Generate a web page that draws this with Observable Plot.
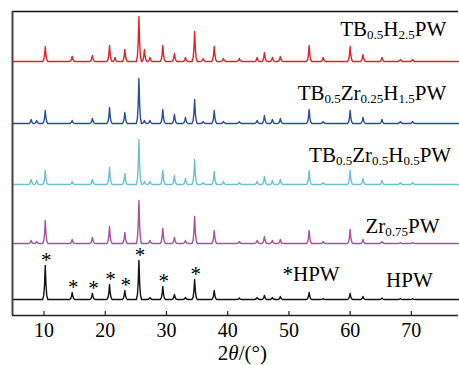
<!DOCTYPE html>
<html><head><meta charset="utf-8">
<script src="https://cdn.jsdelivr.net/npm/d3@7"></script>
<script src="https://cdn.jsdelivr.net/npm/@observablehq/plot@0.6"></script>
<style>body{margin:0;background:#fff}svg{display:block}svg text, svg tspan{font-family:"Liberation Serif","Times New Roman",serif !important}</style>
</head><body><div id="chart"></div>
<script>
// 2θ peak positions (degrees)
const angles = [7.9, 8.8, 10.2, 14.6, 17.9, 20.7, 21.6, 23.2, 25.5, 26.4, 27.3, 29.4, 31.3, 33.1, 34.6, 36.0, 37.8, 39.3, 41.9, 44.8, 46.0, 47.3, 48.6, 53.3, 55.6, 60.0, 62.1, 65.2, 68.2, 70.2];
// peak heights per sample
const hpw      = [0, 0, 34, 7, 6, 15, 0, 9, 39, 0, 2, 13, 5, 2, 20, 0, 9, 0, 1.5, 2, 4, 2, 3, 7, 1, 6, 3, 1.5, 1, 1];
const zr075    = [3, 2, 23, 4, 6, 17, 0, 11, 43, 0, 3, 15, 6, 3, 27, 0, 13, 0, 2, 3, 7, 3, 4, 13, 2, 14, 4, 2, 1, 1];
const tbZr05   = [5, 4, 14, 3, 5, 17, 0, 11, 45, 3, 3, 14, 9, 6, 25, 2, 13, 3, 2, 3, 8, 4, 5, 14, 2, 14, 6, 4, 2, 2];
const tbZr025  = [4, 3, 13, 3, 5, 16, 0, 11, 45, 3, 3, 14, 9, 6, 24, 2, 13, 2, 2, 3, 8, 4, 5, 14, 2, 13, 6, 4, 2, 2];
const tbH25    = [0, 0, 15, 5, 6, 16, 4, 12, 45, 12, 4, 16, 8, 4, 30, 3, 15, 3, 3, 4, 9, 4, 5, 16, 4, 15, 7, 4, 2, 2];
const seriesHeights = [hpw, zr075, tbZr05, tbZr025, tbH25];
const seriesOffsets = [16, 72, 131, 192, 254];
const seriesColors = ["#111111", "#a9509f", "#6fbfd2", "#2a4c9c", "#e2222a"];
const seriesLabels = ["HPW", "Zr_{0.75}PW", "TB_{0.5}Zr_{0.5}H_{0.5}PW", "TB_{0.5}Zr_{0.25}H_{1.5}PW", "TB_{0.5}H_{2.5}PW"];
const labelX = [73.5, 74.6, 76.5, 75.7, 75.7];
const labelY = [28.5, 82.5, 153.5, 216, 280];
const starAngles = [10.2, 14.6, 17.9, 20.7, 23.2, 25.5, 29.4, 34.6];
const xTicks = [10, 20, 30, 40, 50, 60, 70];
const xDomain = [4.85, 77.7];
const yDomain = [0, 304];

function profile(heights, base) {
  const pts = [{x: xDomain[0], y: base}];
  angles.forEach((a, i) => {
    const h = heights[i];
    if (!h) return;
    pts.push({x: a - 0.42, y: base}, {x: a - 0.25, y: base + 0.12 * h}, {x: a - 0.12, y: base + 0.42 * h},
             {x: a, y: base + h},
             {x: a + 0.12, y: base + 0.42 * h}, {x: a + 0.25, y: base + 0.12 * h}, {x: a + 0.42, y: base});
  });
  pts.push({x: xDomain[1], y: base});
  return pts.sort((p, q) => p.x - q.x);
}

const lineMarks = seriesHeights.map((h, i) =>
  Plot.line(profile(h, seriesOffsets[i]), {x: "x", y: "y", stroke: seriesColors[i], strokeWidth: 1.4}));

const labelData = seriesLabels.map((t, i) => ({t, x: labelX[i], y: labelY[i]}));
const starData = starAngles.map(a => ({x: a, y: seriesOffsets[0] + hpw[angles.indexOf(a)] - 1}));
const serif = "Liberation Serif";

const chart = Plot.plot({
  width: 459, height: 365,
  marginLeft: 12, marginRight: 1, marginTop: 11, marginBottom: 50,
  style: {fontFamily: serif, fontSize: "20px", color: "#000", background: "#fff"},
  x: {domain: xDomain, ticks: xTicks, tickSize: 0, tickPadding: 7, label: null},
  y: {domain: yDomain, axis: null},
  marks: [
    ...lineMarks,
    Plot.ruleY([0], {stroke: "#222", strokeWidth: 1.4}),
    Plot.ruleY([yDomain[1]], {stroke: "#111", strokeWidth: 1.4}),
    Plot.ruleX([xDomain[0]], {stroke: "#444", strokeWidth: 2}),
    Plot.ruleX(xTicks, {y1: 0, y2: 4, stroke: "#222", strokeWidth: 1.2}),
    Plot.text(starData, {x: "x", y: "y", text: d => "*", dx: 1, fontSize: 21, fontFamily: serif, lineAnchor: "bottom", fill: "#000"}),
    Plot.text(labelData, {x: "x", y: "y", text: "t", textAnchor: "end", lineAnchor: "bottom", fontSize: 21, fontFamily: serif, fill: "#000"}),
    Plot.text([{x: 48.95, y: 35, t: "*HPW"}], {x: "x", y: "y", text: "t", textAnchor: "start", lineAnchor: "bottom", fontSize: 21, fontFamily: serif, fill: "#000"}),
    Plot.text([{x: 42.4, y: -44, t: "2~{θ}/(°)"}], {x: "x", y: "y", text: "t", textAnchor: "middle", lineAnchor: "bottom", fontSize: 21, fontFamily: serif, fill: "#000"})
  ]
});

// rich text: _{...} subscript, ~{...} italic
chart.querySelectorAll("text").forEach(el => {
  const s = el.textContent;
  if (!/[_~]\{/.test(s)) return;
  while (el.firstChild) el.removeChild(el.firstChild);
  const re = /([_~])\{([^}]*)\}|([^_~]+)/g;
  let m, shifted = 0;
  const ns = "http://www.w3.org/2000/svg";
  while ((m = re.exec(s))) {
    const ts = document.createElementNS(ns, "tspan");
    if (m[1] === "_") {
      ts.textContent = m[2];
      ts.setAttribute("font-size", "13");
      ts.setAttribute("dy", String(3 - shifted));
      shifted = 3;
    } else if (m[1] === "~") {
      ts.textContent = m[2];
      ts.setAttribute("font-style", "italic");
      if (shifted) { ts.setAttribute("dy", String(-shifted)); shifted = 0; }
    } else {
      ts.textContent = m[3];
      if (shifted) { ts.setAttribute("dy", String(-shifted)); shifted = 0; }
    }
    el.appendChild(ts);
  }
});
chart.querySelectorAll("text, tspan").forEach(el => { el.style.fontFamily = '"Liberation Serif", serif'; el.style.fontVariant = "normal"; });

document.getElementById("chart").appendChild(chart);
</script></body></html>
